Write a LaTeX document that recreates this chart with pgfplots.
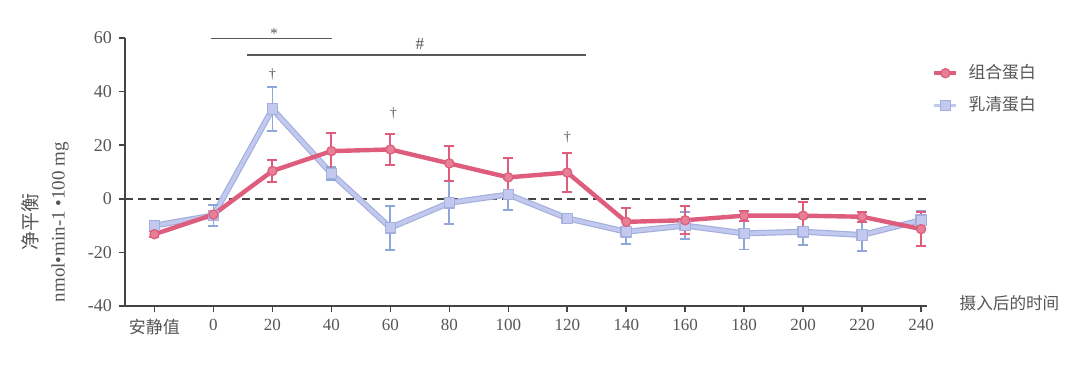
\documentclass[border=0pt]{standalone}
\usepackage{fontspec}
\setmainfont{Liberation Serif}
\newfontfamily\cjk{Noto Sans CJK SC}
\usepackage{pgfplots}
\pgfplotsset{compat=1.18}
\usepackage{pgfplotstable}
\definecolor{rd}{HTML}{DE5C7C}
\definecolor{rdm}{HTML}{E77F97}
\definecolor{bl}{HTML}{C3C9EE}
\definecolor{bledge}{HTML}{A3B0DE}
\definecolor{ble}{HTML}{8FA6D8}
\definecolor{tx}{HTML}{555555}
\definecolor{ax}{HTML}{444444}

\pgfplotstableread{
x y e
0 -13.2 1.2
1 -5.9 1.0
2 10.4 4.0
3 17.8 6.8
4 18.4 5.8
5 13.2 6.5
6 8.0 7.3
7 9.8 7.2
8 -8.6 5.0
9 -8.0 5.3
10 -6.3 1.8
11 -6.3 5.0
12 -6.7 1.8
13 -11.3 6.3
}\redtab

\pgfplotstableread{
x y e
0 -10.0 1.5
1 -6.2 4.0
2 33.5 8.3
3 9.4 2.5
4 -10.8 8.2
5 -1.5 8.0
6 1.6 5.8
7 -7.3 1.5
8 -12.3 4.5
9 -10.0 5.0
10 -12.9 6.0
11 -12.3 5.0
12 -13.5 6.0
13 -8.0 3.5
}\bluetab

\begin{document}
\begin{tikzpicture}
\path[use as bounding box] (0,0) rectangle (540bp,184bp);
\begin{axis}[
  at={(62.5bp,31bp)}, anchor=south west,
  scale only axis, width=401bp, height=134bp,
  xmin=-0.5, xmax=13.1, ymin=-40, ymax=60,
  axis x line*=bottom, axis y line*=left,
  axis line style={ax, line width=1bp},
  xtick={0,...,13},
  xticklabels={{\cjk 安静值},0,20,40,60,80,100,120,140,160,180,200,220,240},
  ytick={-40,-20,0,20,40,60},
  tick style={ax, line width=0.8bp},
  major tick length=3bp,
  tick align=outside,
  xticklabel style={font=\fontsize{8.5bp}{9bp}\selectfont, text=tx},
  yticklabel style={font=\fontsize{9bp}{10bp}\selectfont, text=tx},
  /pgf/number format/assume math mode=true,
  clip=false,
  reverse legend,
  legend style={at={(1.006,0.917)}, anchor=north west, draw=none, fill=none,
    font=\cjk\fontsize{8.4bp}{10bp}\selectfont, text=tx, row sep=3.5bp,
    inner sep=0pt, nodes={inner xsep=5bp}},
  legend cell align=left,
  legend image code/.code={\draw[mark repeat=2,mark phase=2,#1] plot coordinates {(0bp,0bp)(5.5bp,0bp)(11bp,0bp)};},
]
% zero line
\addplot[forget plot, ax, line width=0.9bp, dash pattern=on 4bp off 2.5bp] coordinates {(-0.5,0) (13.1,0)};
% blue edge
\addplot[forget plot, bledge, line width=3bp, line join=round] table[x=x,y=y] {\bluetab};
% blue
\addplot[bl, line width=1.8bp, line join=round, mark=square*, mark size=2.6bp,
  mark options={fill=bl, draw=bledge, line width=0.6bp},
  error bars/.cd, y dir=both, y explicit,
  error bar style={ble, line width=0.9bp},
  error mark options={ble, line width=0.9bp, mark size=2.5bp, rotate=90}]
  table[x=x,y=y,y error=e] {\bluetab};
\addlegendentry{乳清蛋白}
% red
\addplot[rd, line width=2.2bp, line join=round, mark=*, mark size=2.3bp,
  mark options={fill=rdm, draw=rd, line width=0.6bp},
  error bars/.cd, y dir=both, y explicit,
  error bar style={rd, line width=1bp},
  error mark options={rd, line width=1bp, mark size=2.5bp, rotate=90}]
  table[x=x,y=y,y error=e] {\redtab};
\addlegendentry{组合蛋白}
% significance lines
\addplot[forget plot, gray!70!black, line width=0.9bp] coordinates {(0.955,59.8) (3.01,59.8)};
\addplot[forget plot, gray!70!black, line width=0.9bp] coordinates {(1.565,53.6) (7.31,53.6)};
\node[text=tx, font=\fontsize{7.5bp}{8bp}\selectfont] at (axis cs:2.03,61.6) {*};
\node[text=tx, font=\fontsize{8.5bp}{9bp}\selectfont] at (axis cs:4.5,57.8) {\#};
\node[text=tx, font=\fontsize{7bp}{8bp}\selectfont] at (axis cs:2,46.3) {†};
\node[text=tx, font=\fontsize{7bp}{8bp}\selectfont] at (axis cs:4.05,31.8) {†};
\node[text=tx, font=\fontsize{7bp}{8bp}\selectfont] at (axis cs:7,23) {†};
% labels
\node[rotate=90, text=tx, font=\cjk\fontsize{9.5bp}{11bp}\selectfont] at (rel axis cs:-0.118,0.313) {净平衡};
\node[rotate=90, text=tx, font=\fontsize{9.5bp}{11bp}\selectfont] at (rel axis cs:-0.081,0.313) {nmol•min-1 •100 mg};
\node[anchor=west, text=tx, font=\cjk\fontsize{8.3bp}{10bp}\selectfont] at (rel axis cs:1.032,0.011) {摄入后的时间};
\end{axis}
\end{tikzpicture}
\end{document}
